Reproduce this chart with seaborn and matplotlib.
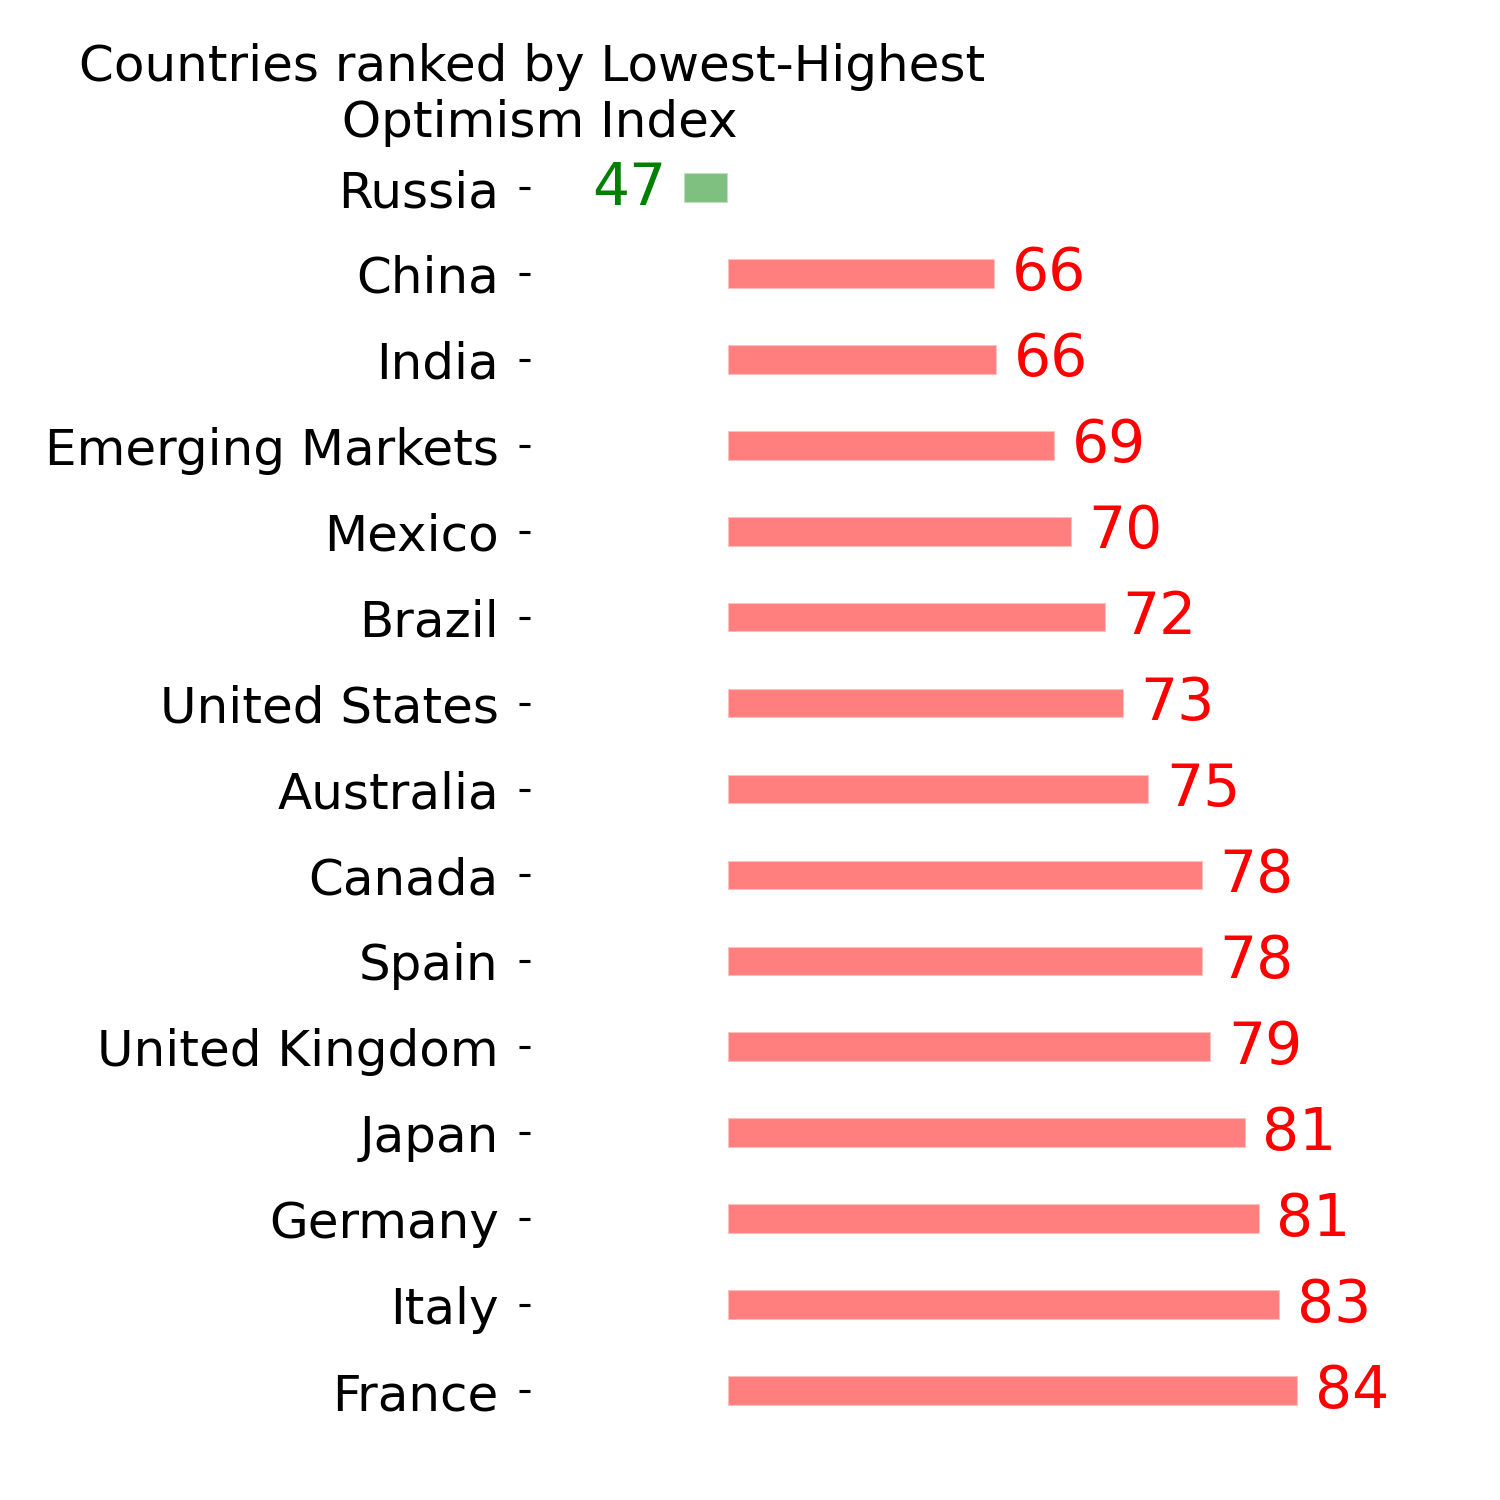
import numpy as np
import matplotlib
matplotlib.use("Agg")
import matplotlib.pyplot as plt
import seaborn as sns

# data
countries = ["Russia", "China", "India", "Emerging Markets", "Mexico", "Brazil",
             "United States", "Australia", "Canada", "Spain", "United Kingdom",
             "Japan", "Germany", "Italy", "France"]
index_labels = [47, 66, 66, 69, 70, 72, 73, 75, 78, 78, 79, 81, 81, 83, 84]
# bar length = optimism index relative to a baseline of 50
deviation = [-2.65, 15.9, 16.05, 19.5, 20.5, 22.5, 23.6, 25.1, 28.3, 28.3,
             28.8, 30.85, 31.7, 32.9, 34.0]
bar_colors = ["green" if d < 0 else "red" for d in deviation]

sns.set_style("white")
plt.rcParams["font.family"] = ["DejaVu Sans"]
plt.rcParams["text.color"] = "black"
plt.rcParams["ytick.color"] = "black"
plt.rcParams["ytick.labelcolor"] = "black"

fig = plt.figure(figsize=(10, 10), dpi=150)
ax = fig.add_axes([530 / 1500, 0.044, 920 / 1500, 0.8593])

sns.barplot(x=deviation, y=countries, hue=countries, palette=bar_colors,
            orient="h", width=0.345, alpha=0.5, saturation=1, legend=False, ax=ax)

for i, (d, lab, c) in enumerate(zip(deviation, index_labels, bar_colors)):
    if d < 0:
        ax.annotate(str(lab), xy=(d, i), xytext=(-8.5, 0), textcoords="offset points",
                    ha="right", va="center", color=c, fontsize=28)
    else:
        ax.annotate(str(lab), xy=(d, i), xytext=(8, 0), textcoords="offset points",
                    ha="left", va="center", color=c, fontsize=28)

ax.set_xlim(-(728.5 - 530) / 16.76, (1450 - 728.5) / 16.76)
ax.set_ylim(14.5, -0.5)
ax.set_xticks([])
ax.set_xlabel("")
ax.set_ylabel("")
ax.tick_params(axis="y", labelsize=24, length=5.5, width=1.5, pad=9.5, left=True,
               colors="black")
sns.despine(ax=ax, left=True, bottom=True)

fig.text(532 / 1500, 1 - 95 / 1500, "Countries ranked by Lowest-Highest\n Optimism Index",
         ha="center", va="center", fontsize=24, color="black")

fig.savefig("out.png", dpi=150)
